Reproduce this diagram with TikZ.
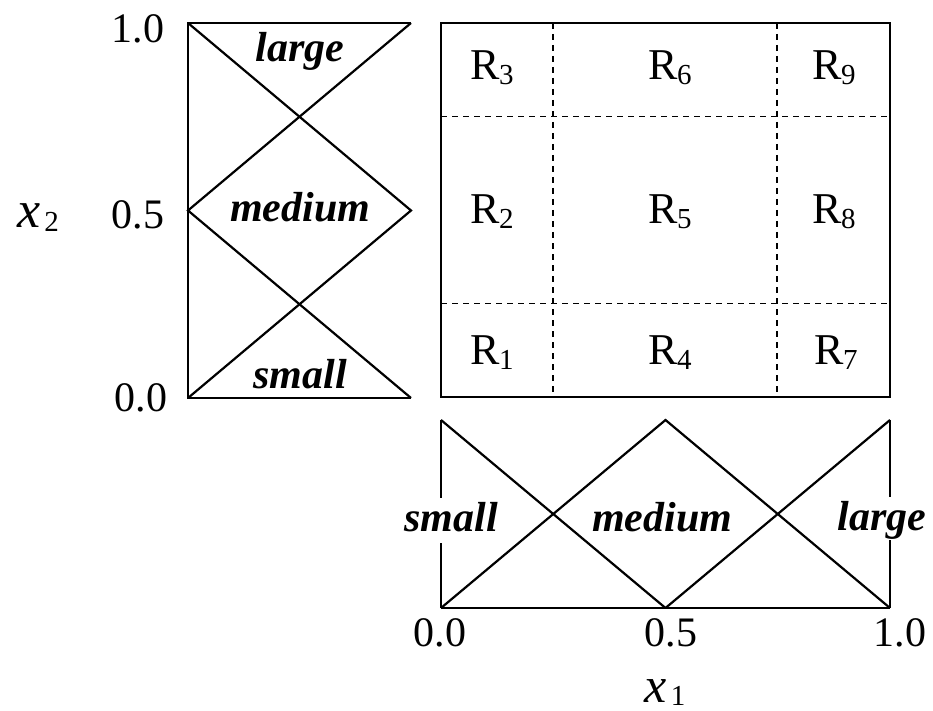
\documentclass[tikz,border=0pt]{standalone}
\usepackage{fontspec}
\setmainfont{Liberation Serif}
\newcommand\bigf{\fontsize{42}{48}\selectfont}
\newcommand\regf{\fontsize{44}{48}\selectfont}
\newcommand\subf{\fontsize{29}{31}\selectfont}
\newcommand\Rlab[1]{R\kern-0.5pt\raisebox{-5pt}{\subf #1}}
\begin{document}
\begin{tikzpicture}[x=1pt,y=-1pt]
\useasboundingbox (0,0) rectangle (933,711);
\tikzset{
  mf/.style={line width=2.2pt, line join=miter},
  frame/.style={line width=2.8pt},
  gridline/.style={line width=1.8pt, dash pattern=on 6pt off 5pt},
  lab/.style={font=\bigf\bfseries\itshape, anchor=base, inner sep=0pt},
  num/.style={font=\bigf, anchor=base, inner sep=0pt},
  reg/.style={font=\regf, anchor=base, inner sep=0pt}
}
% ---- left panel (x2 membership functions)
\coordinate (LT) at (188,23);
\coordinate (RT) at (411,23);
\coordinate (LM) at (188,210.5);
\coordinate (RM) at (411,210.5);
\coordinate (LB) at (188,398);
\coordinate (RB) at (411,398);
\draw[mf] (RT) -- (LT) -- (LB) -- (RB);
\draw[mf] (RT) -- (LM) -- (RB);
\draw[mf] (LT) -- (RM) -- (LB);
\node[lab] (l2large) at (300,62) {large};
\node[lab] (l2medium) at (300,222) {medium};
\node[lab] (l2small) at (300,388) {small};
\node[num] (t2a) at (138,43) {1.0};
\node[num] (t2b) at (138,229) {0.5};
\node[num] (t2c) at (141,411) {0.0};
\node[anchor=base, inner sep=0pt] (x2) at (38,227) {\fontsize{52}{56}\selectfont\itshape x\kern4pt\raisebox{-4pt}{\subf\upshape 2}};
% ---- rule grid
\coordinate (GLT) at (441,23);
\coordinate (GRB) at (890,397);
\draw[frame] (GLT) rectangle (GRB);
\draw[gridline] (553,23) -- (553,397);
\draw[gridline] (777,23) -- (777,397);
\draw[gridline] (441,116.5) -- (890,116.5);
\draw[gridline] (441,303.5) -- (890,303.5);
\node[reg] (R3) at (492,80) {\Rlab{3}};
\node[reg] (R6) at (670,80) {\Rlab{6}};
\node[reg] (R9) at (834,80) {\Rlab{9}};
\node[reg] (R2) at (492,224) {\Rlab{2}};
\node[reg] (R5) at (670,224) {\Rlab{5}};
\node[reg] (R8) at (834,224) {\Rlab{8}};
\node[reg] (R1) at (492,364) {\Rlab{1}};
\node[reg] (R4) at (670,364) {\Rlab{4}};
\node[reg] (R7) at (836,364) {\Rlab{7}};
% ---- bottom panel (x1 membership functions)
\coordinate (BLT) at (441,420);
\coordinate (BMT) at (665.5,420);
\coordinate (BRT) at (890,420);
\coordinate (BLB) at (441,608);
\coordinate (BMB) at (665.5,608);
\coordinate (BRB) at (890,608);
\draw[mf] (BLT) -- (BMB);
\draw[mf] (BLB) -- (BMT) -- (BRB);
\draw[mf] (BMB) -- (BRT);
\draw[mf] (BLB) -- (BRB);
\draw[mf] (BLT) -- (441,498);
\draw[mf] (441,543) -- (BLB);
\draw[mf] (BRT) -- (890,497);
\draw[mf] (890,540) -- (BRB);
\node[lab] (l1small) at (451,531) {small};
\node[lab] (l1medium) at (662,531) {medium};
\node[lab] (l1large) at (882,530) {large};
\node[num] (t1a) at (440,646) {0.0};
\node[num] (t1b) at (671,646) {0.5};
\node[num] (t1c) at (900,646) {1.0};
\node[anchor=base, inner sep=0pt] (x1) at (665,702) {\fontsize{50}{54}\selectfont\itshape x\kern4pt\raisebox{-3pt}{\subf\upshape 1}};
\end{tikzpicture}
\end{document}
